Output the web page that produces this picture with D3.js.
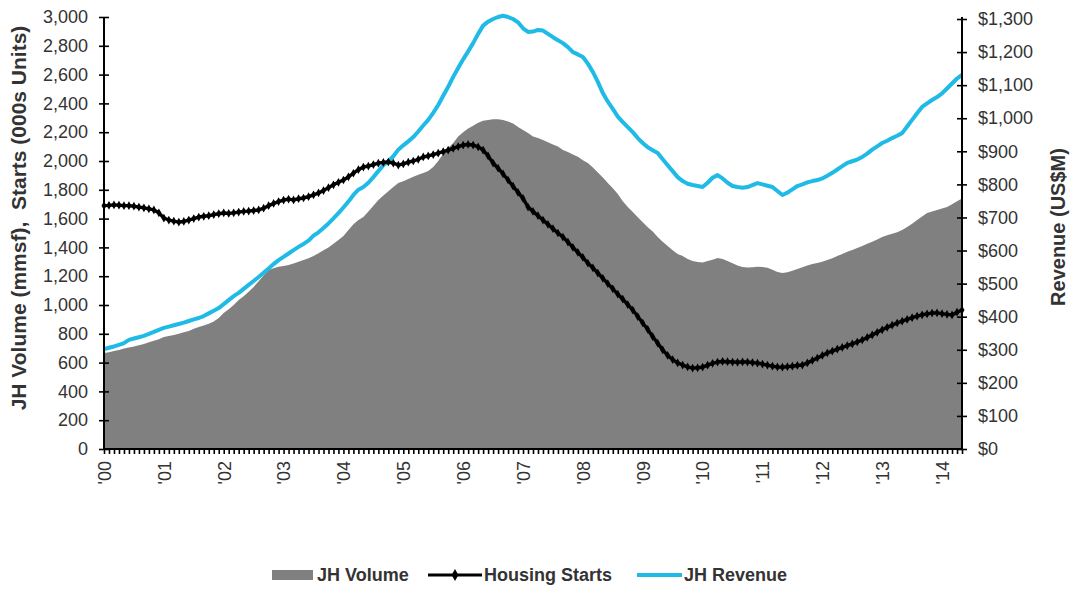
<!DOCTYPE html>
<html>
<head>
<meta charset="utf-8">
<script src="https://cdn.jsdelivr.net/npm/d3@7"></script>
<style>
  html, body { margin: 0; padding: 0; background: #fff; }
  svg { display: block; font-family: "Liberation Sans", Arial, sans-serif; }
</style>
</head>
<body>
<svg id="chart" width="1071" height="590"></svg>
<script>
// ---------- DATA (monthly, Jan 2000 – May 2014) ----------
const startMonth = new Date(2000, 0, 1);
const yearLabels = ["'00","'01","'02","'03","'04","'05","'06","'07","'08","'09","'10","'11","'12","'13","'14"];
const leftTicks = [0,200,400,600,800,1000,1200,1400,1600,1800,2000,2200,2400,2600,2800,3000];
const rightTicks = [0,100,200,300,400,500,600,700,800,900,1000,1100,1200,1300];

// JH Volume (mmsf) – left axis, grey area
const jhVolume = [
  667,672,680,688,698,705,712,720,730,742,752,762,
  778,785,792,800,810,820,835,847,858,870,885,910,
  944,970,1000,1035,1060,1092,1125,1165,1205,1243,1255,1265,
  1270,1278,1288,1300,1313,1325,1340,1360,1380,1400,1425,1451,
  1480,1520,1560,1590,1611,1650,1690,1729,1760,1790,1820,1847,
  1860,1875,1890,1905,1917,1930,1958,2000,2050,2090,2125,2170,
  2200,2225,2245,2265,2280,2285,2290,2290,2285,2275,2260,2236,
  2215,2195,2170,2160,2145,2130,2115,2100,2076,2062,2045,2030,
  2005,1986,1955,1920,1885,1847,1810,1770,1720,1680,1645,1610,
  1575,1540,1510,1472,1440,1410,1380,1355,1340,1320,1305,1299,
  1295,1305,1315,1326,1320,1305,1290,1275,1264,1260,1262,1265,
  1264,1258,1245,1230,1222,1228,1238,1250,1262,1275,1285,1292,
  1300,1312,1325,1340,1355,1370,1382,1395,1410,1425,1440,1455,
  1472,1485,1495,1505,1520,1542,1565,1590,1615,1639,1650,1660,
  1670,1681,1700,1720,1740
];

// Housing Starts (000s units) – left axis, black line with markers
const housingStarts = [
  1690,1692,1695,1693,1690,1690,1686,1680,1675,1668,1660,1640,
  1604,1590,1582,1576,1580,1590,1600,1611,1616,1620,1628,1634,
  1639,1636,1640,1645,1650,1652,1656,1660,1672,1690,1705,1718,
  1729,1735,1730,1738,1743,1752,1765,1778,1795,1815,1835,1852,
  1868,1890,1915,1940,1958,1965,1975,1985,1990,1993,1985,1972,
  1980,1992,2000,2012,2028,2035,2045,2055,2065,2076,2088,2100,
  2111,2115,2111,2098,2076,2035,1986,1950,1910,1868,1825,1782,
  1740,1680,1650,1620,1590,1560,1530,1500,1472,1437,1400,1365,
  1330,1290,1258,1222,1185,1148,1112,1075,1040,1003,965,920,
  875,830,780,735,688,650,620,598,583,570,562,564,
  569,582,595,604,608,606,604,602,605,604,600,596,
  590,582,575,570,568,572,575,580,583,598,615,632,
  650,667,680,693,705,718,730,743,757,775,792,810,
  828,845,860,875,888,900,912,922,932,938,944,945,
  940,935,931,950,965
];

// JH Revenue (US$M) – right axis, cyan line
const jhRevenue = [
  302,306,310,315,320,330,334,338,342,348,354,360,
  366,370,374,378,382,387,392,396,402,410,418,426,
  438,450,462,472,484,496,508,520,533,546,559,571,
  581,591,601,611,620,630,645,655,668,682,697,713,
  730,748,768,784,792,805,822,840,858,870,885,905,
  918,930,943,960,978,995,1016,1040,1068,1095,1125,1152,
  1178,1202,1227,1255,1280,1292,1300,1306,1310,1306,1300,1290,
  1272,1261,1262,1267,1265,1255,1245,1236,1227,1215,1200,1193,
  1185,1165,1140,1110,1076,1050,1028,1005,988,973,958,940,
  925,912,903,895,876,858,840,822,810,802,798,795,
  792,805,820,828,818,805,795,792,790,792,798,804,
  800,796,792,780,768,775,785,795,800,806,810,813,
  818,826,835,845,855,865,870,875,883,893,905,915,
  925,932,940,947,955,975,995,1015,1034,1045,1055,1064,
  1075,1090,1105,1120,1131
];

const seriesNames = ["JH Volume", "Housing Starts", "JH Revenue"];

// ---------- LAYOUT ----------
const svg = d3.select("#chart");
const W = 1071, H = 590;
const plot = { left: 104, right: 962, top: 17, bottom: 449 };
const textColor = "#333";
const grey = "#808080", cyan = "#1fbbe6";

const months = d3.timeMonth.range(startMonth, d3.timeMonth.offset(startMonth, jhVolume.length));
const idx = d3.range(months.length);

const x = d3.scalePoint().domain(idx).range([plot.left, plot.right]);
const yL = d3.scaleLinear().domain([0, 3000]).range([plot.bottom, plot.top]);
const yR = d3.scaleLinear().domain([0, 1300]).range([plot.bottom, plot.top + 2]);

svg.append("rect").attr("width", W).attr("height", H).attr("fill", "#fff");

// Area
const area = d3.area().x(i => x(i)).y0(plot.bottom).y1(i => yL(jhVolume[i]));
svg.append("path").datum(idx).attr("d", area).attr("fill", grey);

// Revenue line
const lineR = d3.line().x(i => x(i)).y(i => yR(jhRevenue[i]));
svg.append("path").datum(idx).attr("d", lineR)
  .attr("fill", "none").attr("stroke", cyan).attr("stroke-width", 4)
  .attr("stroke-linejoin", "round");

// Housing starts line + markers
const lineH = d3.line().x(i => x(i)).y(i => yL(housingStarts[i]));
svg.append("path").datum(idx).attr("d", lineH)
  .attr("fill", "none").attr("stroke", "#000").attr("stroke-width", 3.4)
  .attr("stroke-linejoin", "round");
const diamond = d3.symbol().type(d3.symbolDiamond).size(22);
svg.append("g").selectAll("path").data(idx).join("path")
  .attr("d", diamond)
  .attr("transform", i => `translate(${x(i)},${yL(housingStarts[i])})`)
  .attr("fill", "#000");

// ---------- AXES ----------
const gL = svg.append("g").attr("transform", `translate(${plot.left},0)`)
  .call(d3.axisLeft(yL).tickValues(leftTicks).tickSize(5).tickPadding(11).tickFormat(d3.format(",")));
const gR = svg.append("g").attr("transform", `translate(${plot.right},0)`)
  .call(d3.axisRight(yR).tickValues(rightTicks).tickSize(5).tickPadding(11).tickFormat(d => "$" + d3.format(",")(d)));
const gB = svg.append("g").attr("transform", `translate(0,${plot.bottom})`)
  .call(d3.axisBottom(x).tickSize(5).tickFormat(i => (months[i].getMonth() === 0 ? yearLabels[months[i].getFullYear() - 2000] : "")));

[gL, gR, gB].forEach(g => {
  g.select(".domain").attr("stroke", "#000").attr("stroke-width", 2);
  g.selectAll(".tick line").attr("stroke", "#000").attr("stroke-width", 1.6);
  g.selectAll("text").attr("fill", textColor).style("font-size", "18px")
    .style("font-family", "'Liberation Sans', Arial, sans-serif");
});
gL.selectAll(".tick line").attr("x1", 5).attr("x2", -5);
gR.selectAll(".tick line").attr("x1", -5).attr("x2", 5);
gB.select(".domain").attr("d", `M${plot.left},0H${plot.right}`);
gL.select(".domain").attr("d", `M0,${plot.top}V${plot.bottom}`);
gR.select(".domain").attr("d", `M0,${plot.top}V${plot.bottom}`);

gB.selectAll(".tick text")
  .attr("transform", "rotate(-90)")
  .attr("text-anchor", "end")
  .attr("x", -12).attr("y", 0).attr("dy", "0.35em");

// Axis titles
svg.append("text")
  .attr("transform", "translate(19,218) rotate(-90)")
  .attr("text-anchor", "middle").attr("dy", "0.35em")
  .attr("fill", textColor).style("font-size", "21px").style("font-weight", "bold")
  .style("white-space", "pre")
  .text("JH Volume (mmsf),  Starts (000s Units)");
svg.append("text")
  .attr("transform", "translate(1058,227) rotate(-90)")
  .attr("text-anchor", "middle").attr("dy", "0.35em")
  .attr("fill", textColor).style("font-size", "20px").style("font-weight", "bold")
  .text("Revenue (US$M)");

// ---------- LEGEND ----------
const ly = 575;
const lg = svg.append("g").style("font-size", "18px").style("font-weight", "bold").attr("fill", textColor);
lg.append("rect").attr("x", 272).attr("y", ly - 5).attr("width", 41).attr("height", 10).attr("fill", grey);
lg.append("text").attr("x", 317).attr("y", ly).attr("dy", "0.35em").text(seriesNames[0]);
lg.append("line").attr("x1", 428).attr("x2", 482).attr("y1", ly).attr("y2", ly).attr("stroke", "#000").attr("stroke-width", 3);
lg.append("path").attr("d", d3.symbol().type(d3.symbolDiamond).size(40)).attr("transform", `translate(455,${ly})`).attr("fill", "#000");
lg.append("text").attr("x", 484).attr("y", ly).attr("dy", "0.35em").text(seriesNames[1]);
lg.append("line").attr("x1", 637).attr("x2", 682).attr("y1", ly).attr("y2", ly).attr("stroke", cyan).attr("stroke-width", 4);
lg.append("text").attr("x", 684).attr("y", ly).attr("dy", "0.35em").text(seriesNames[2]);
</script>
</body>
</html>
